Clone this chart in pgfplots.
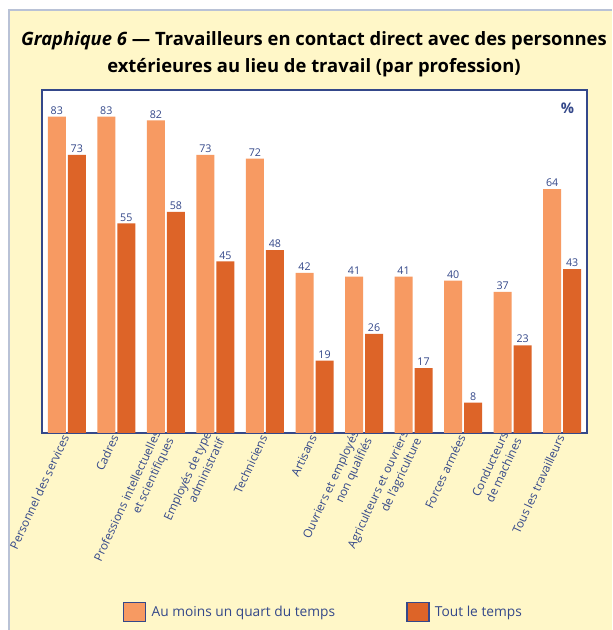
\documentclass[border=0pt]{standalone}
\usepackage{pgfplots}
\pgfplotsset{compat=1.18}
\usepackage{fontspec}
\setmainfont{Open Sans}
\definecolor{bgyellow}{HTML}{FFF7C8}
\definecolor{panelline}{HTML}{B9C2D6}
\definecolor{axisblue}{HTML}{34488A}
\definecolor{lightor}{HTML}{F79A62}
\definecolor{darkor}{HTML}{DD6428}

\begin{document}
\begin{tikzpicture}[x=0.75pt,y=0.75pt]
\path[use as bounding box] (0,0) rectangle (612,630);
\fill[white] (0,0) rectangle (612,630);
\fill[bgyellow] (9,0) rectangle (612,620);
\draw[panelline, line width=1pt] (9,0) -- (9,620) -- (612,620);
\node[font=\bfseries\fontsize{13.8}{20}\selectfont, align=center] at (314,576)
  {\textit{Graphique 6} — Travailleurs en contact direct avec des personnes\\extérieures au lieu de travail (par profession)};

\begin{axis}[
    at={(31.5pt,147.75pt)}, anchor=south west,
    scale only axis,
    width=408.75pt, height=257.25pt,
    xmin=-0.5, xmax=10.5, ymin=0, ymax=90,
    ybar=1.5pt, bar width=13.5pt,
    /pgf/number format/assume math mode=true,
    axis background/.style={fill=white},
    axis line style={draw=axisblue, line width=1.1pt},
    ytick=\empty,
    xtick={0,...,10},
    xticklabels={Personnel des services, Cadres,
      {Professions intellectuelles\\et scientifiques},
      {Employés de type\\administratif}, Techniciens, Artisans,
      {Ouvriers et employés\\non qualifiés},
      {Agriculteurs et ouvriers\\de l'agriculture}, Forces armées,
      {Conducteurs\\de machines}, Tous les travailleurs},
    major tick length=0pt,
    xticklabel style={rotate=65, anchor=east, align=right,
      font=\fontsize{8.8}{11}\selectfont, text=axisblue, inner sep=2pt},
    nodes near coords,
    nodes near coords style={font=\fontsize{8}{9}\selectfont, text=axisblue, inner sep=1.5pt},
    legend style={at={(0.517,-0.522)}, anchor=center, draw=none, fill=none,
      legend columns=2, font=\fontsize{10.3}{12}\selectfont, text=axisblue,
      /tikz/every even column/.append style={column sep=51.5pt}},
]
\addplot[fill=lightor, draw=none,
  legend image code/.code={\draw[fill=lightor, draw=axisblue, line width=0.9pt] (0pt,-7pt) rectangle (16.5pt,7pt); \path (19pt,0pt);}]
  coordinates {(0,83) (1,83) (2,82) (3,73) (4,72) (5,42) (6,41) (7,41) (8,40) (9,37) (10,64)};
\addplot[fill=darkor, draw=none,
  legend image code/.code={\draw[fill=darkor, draw=axisblue, line width=0.9pt] (0pt,-7pt) rectangle (16.5pt,7pt); \path (19pt,0pt);}]
  coordinates {(0,73) (1,55) (2,58) (3,45) (4,48) (5,19) (6,26) (7,17) (8,8) (9,23) (10,43)};
\legend{Au moins un quart du temps, Tout le temps}
\node[anchor=north east, font=\bfseries\fontsize{11}{12}\selectfont, text=axisblue]
  at (rel axis cs:0.985,0.975) {\%};
\end{axis}
\end{tikzpicture}
\end{document}
